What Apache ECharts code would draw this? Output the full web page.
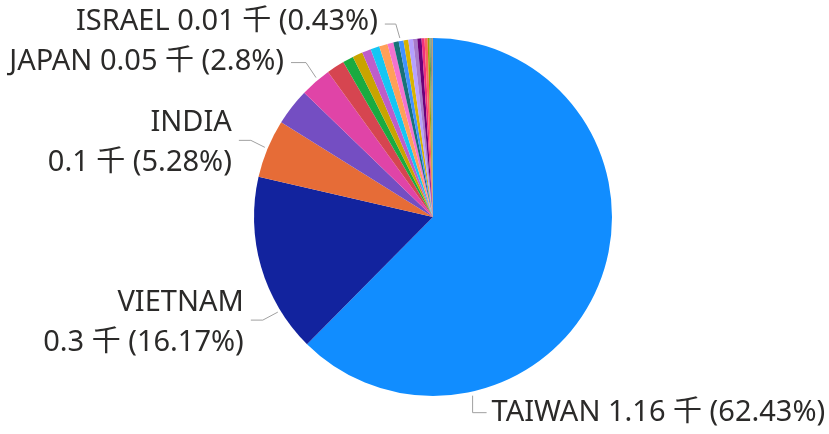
<!DOCTYPE html>
<html>
<head>
<meta charset="utf-8">
<script src="https://cdn.jsdelivr.net/npm/echarts@6/dist/echarts.min.js"></script>
<style>
html,body{margin:0;padding:0;background:#fff;}
#c{width:829px;height:434px;}
</style>
</head>
<body>
<div id="c"></div>
<script>
// Data (counts; total 1855)
const categories = ['TAIWAN','VIETNAM','INDIA','Other 4','JAPAN','Other 6','Other 7','Other 8','Other 9','Other 10','Other 11','Other 12','Other 13','ISRAEL','Other 15','Other 16','Other 17','Other 18','Other 19','Other 20','Other 21','Other 22','Other 23','Other 24','Other 25'];
const values = [1158,300,98,62,52,30,18,17,15,15,14,10,9,8,8,8,7,7,5,5,3,2,2,1,1];
const colors = ['#118DFF','#12239E','#E66C37','#744EC2','#E044A7','#D64550','#1AAB40','#C9A400','#BE5DC9','#15C6F4','#FFA058','#F472D0','#197278','#4092FF','#D9B300','#B5A1FF','#A77BCA','#6B007B','#F0307E','#FD625E','#A0A000','#5EA34E','#8A8A8A','#4E9A9A','#C08040'];
const wrapped = ['VIETNAM','INDIA'];
// label line layout (style only): anchor angle in degrees clockwise from 12 o'clock
const labelStyle = {
  TAIWAN:  {angle:167.5, off:4, elbow:[0,17],   tail:14,  side:'left',  dy:0},
  VIETNAM: {angle:238.5, off:3, elbow:[-15,8],  tail:-12, side:'right', dy:3},
  INDIA:   {angle:292.5, off:3, elbow:[-14,-7], tail:-12, side:'right', dy:2},
  JAPAN:   {angle:320,   off:3, elbow:[-10,-15],tail:-15, side:'right', dy:-1},
  ISRAEL:  {angle:349.5, off:3, elbow:[-4,-14], tail:-11, side:'right', dy:-2}
};
const CX = 433, CY = 217, R = 179;

function fmt(n, d){ return String(parseFloat(n.toFixed(d))); }

const chart = echarts.init(document.getElementById('c'));
const data = categories.map((name, i) => {
  const item = {name, value: values[i], itemStyle:{color: colors[i]}};
  if (labelStyle[name]) {
    item.label = {show:true};
    item.labelLine = {show:true};
  }
  return item;
});

chart.setOption({
  animation:false,
  series:[{
    type:'pie',
    center:[CX, CY],
    radius:[0, R],
    startAngle:90,
    clockwise:true,
    avoidLabelOverlap:false,
    percentPrecision:2,
    data,
    label:{
      show:false,
      position:'outside',
      fontFamily:'"Noto Sans","Noto Sans CJK SC",sans-serif',
      fontSize:29,
      lineHeight:40,
      color:'#2b2a29',
      formatter:function(p){
        const v = fmt(p.value/1000, 2) + ' 千 (' + fmt(p.percent, 2) + '%)';
        return wrapped.indexOf(p.name) >= 0 ? p.name + '\n' + v : p.name + ' ' + v;
      }
    },
    labelLine:{show:false, lineStyle:{color:'#A0A0A0', width:1}},
    labelLayout:function(params){
      const name = categories[params.dataIndex];
      const s = labelStyle[name];
      if (!s) return {};
      const a = s.angle * Math.PI / 180;
      const p0 = [CX + (R + s.off) * Math.sin(a), CY - (R + s.off) * Math.cos(a)];
      const p1 = [p0[0] + s.elbow[0], p0[1] + s.elbow[1]];
      const p2 = [p1[0] + s.tail, p1[1]];
      const gap = s.side === 'left' ? 5 : -7;
      return {
        x: p2[0] + gap,
        y: p2[1] + s.dy,
        align: s.side,
        verticalAlign:'middle',
        labelLinePoints:[p0, p1, p2]
      };
    }
  }]
});
</script>
</body>
</html>
